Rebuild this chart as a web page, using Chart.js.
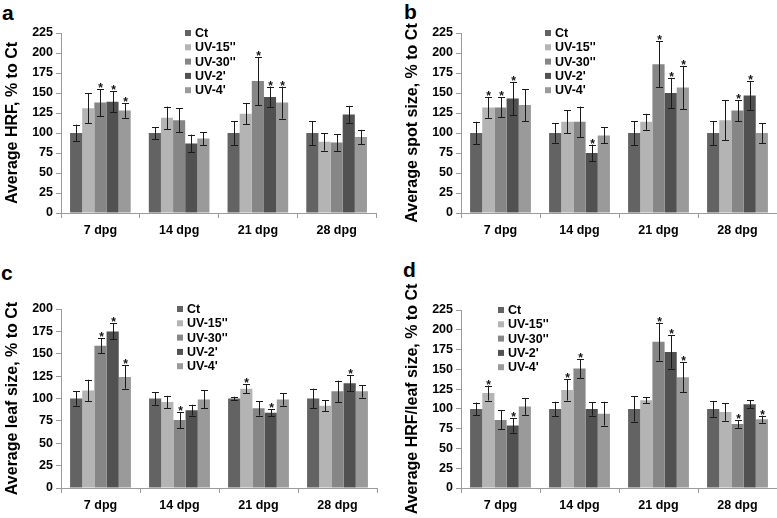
<!DOCTYPE html>
<html><head><meta charset="utf-8">
<script src="https://cdn.jsdelivr.net/npm/chart.js@4.4.1/dist/chart.umd.min.js"></script>
<style>
html,body{margin:0;padding:0;background:#fff;}
body{width:777px;height:518px;overflow:hidden;position:relative;font-family:"Liberation Sans",Arial,sans-serif;}
.pane{position:absolute;}
.letter{position:absolute;font-weight:bold;font-size:21px;line-height:21px;color:#000;}
</style></head>
<body>
<div class="letter" style="left:2px;top:2px">a</div>
<div class="letter" style="left:404px;top:1px">b</div>
<div class="letter" style="left:1px;top:262px">c</div>
<div class="letter" style="left:403px;top:259px">d</div>
<div class="pane" style="left:0;top:0"><canvas id="cA" width="388" height="258"></canvas></div>
<div class="pane" style="left:388px;top:0"><canvas id="cB" width="389" height="258"></canvas></div>
<div class="pane" style="left:0;top:258px"><canvas id="cC" width="388" height="260"></canvas></div>
<div class="pane" style="left:388px;top:258px"><canvas id="cD" width="389" height="260"></canvas></div>
<script>
// ---- data ----
const categories = ['7 dpg', '14 dpg', '21 dpg', '28 dpg'];
const seriesNames = ['Ct', "UV-15''", "UV-30''", "UV-2'", "UV-4'"];
const seriesColors = ['#636363', '#b4b4b4', '#868686', '#515151', '#9a9a9a'];

// panel a: Average HRF, % to Ct  (rows = series, cols = categories)
const hrfMean = [[100,100,100,100],[131,119,124,89],[138,116,165,88],[139,87,145,123],[128,93,138,95]];
const hrfErr  = [[10.5,7.5,15,15],[19,14,13,11],[17,15,30,10.5],[13,11,13,11],[9,8,20,9]];
const hrfSig  = [[0,0,0,0],[0,0,0,0],[1,0,1,0],[1,0,1,0],[1,0,1,0]];

// panel b: Average spot size, % to Ct
const spotMean = [[100,100,100,100],[132,114,114,116],[132,114,186,128],[143,75,150,147],[135,97,157,100]];
const spotErr  = [[14,12,15,15],[13,14.5,10,25],[12.5,19,29,13],[21,10.5,19,18],[20,10,27,12.5]];
const spotSig  = [[0,0,0,0],[1,0,0,0],[1,0,1,1],[1,1,1,1],[0,0,1,0]];

// panel c: Average leaf size, % to Ct
const leafMean = [[100,100,100,100],[109,96,111,92],[159,76,89,108],[175,87,84,117],[124,99,99,108]];
const leafErr  = [[8,7,2,11],[12,7,5,6],[8.5,9,8,12],[9,6,4,9],[13,10,7,7]];
const leafSig  = [[0,0,0,0],[0,0,1,0],[1,1,0,0],[1,0,1,1],[1,0,0,0]];

// panel d: Average HRF/leaf size, % to Ct
const ratioMean = [[100,100,100,100],[120,124,111,96],[86,151,185,81],[79,100,172,106],[103,94,140,87]];
const ratioErr  = [[8,9,16,10],[9.5,13.5,4,11],[12,12,24,5],[9,8.5,21,5],[10.5,15,19,4.5]];
const ratioSig  = [[0,0,0,0],[1,1,0,0],[0,1,1,1],[1,0,1,0],[0,0,1,1]];

// ---- plugins ----
const errorBars = {
  id: 'errorBars',
  afterDatasetsDraw(chart) {
    const ctx = chart.ctx, y = chart.scales.y;
    ctx.save();
    chart.data.datasets.forEach((ds, di) => {
      const meta = chart.getDatasetMeta(di);
      meta.data.forEach((bar, i) => {
        const v = ds.data[i], e = ds.err[i];
        const yt = y.getPixelForValue(v + e), yb = y.getPixelForValue(v - e);
        const x = Math.round(bar.x) + 0.5;
        ctx.strokeStyle = '#1a1a1a'; ctx.lineWidth = 1;
        ctx.beginPath();
        ctx.moveTo(x, yt); ctx.lineTo(x, yb);
        ctx.moveTo(x - 3.5, Math.round(yt) + 0.5); ctx.lineTo(x + 3.5, Math.round(yt) + 0.5);
        ctx.moveTo(x - 3.5, Math.round(yb) + 0.5); ctx.lineTo(x + 3.5, Math.round(yb) + 0.5);
        ctx.stroke();
        if (ds.sig[i]) {
          ctx.fillStyle = '#111';
          ctx.font = 'bold 12px "Liberation Sans", Arial, sans-serif';
          ctx.textAlign = 'center'; ctx.textBaseline = 'alphabetic';
          ctx.fillText('*', x, yt + 3);
        }
      });
    });
    ctx.restore();
  }
};
const boxLegend = {
  id: 'boxLegend',
  afterDraw(chart, args, opts) {
    const ctx = chart.ctx;
    ctx.save();
    ctx.font = 'bold 12.5px "Liberation Sans", Arial, sans-serif';
    ctx.textBaseline = 'middle'; ctx.textAlign = 'left';
    chart.data.datasets.forEach((ds, i) => {
      const cy = opts.y + i * 14.3;
      ctx.fillStyle = ds.backgroundColor;
      ctx.fillRect(opts.x, cy - 3, 6, 6);
      ctx.fillStyle = '#000';
      ctx.fillText(ds.label, opts.x + 10, cy + 0.5);
    });
    ctx.restore();
  }
};

const tickFont = {family: '"Liberation Sans", Arial, sans-serif', size: 12.5, weight: 'bold'};
const axisGray = '#9a9a9a';

function makeChart(id, means, errs, sigs, yMax, yTitle, cfg) {
  return new Chart(document.getElementById(id), {
    type: 'bar',
    data: {
      labels: categories,
      datasets: seriesNames.map((n, i) => ({
        label: n, data: means[i], err: errs[i], sig: sigs[i],
        backgroundColor: seriesColors[i], borderWidth: 0,
        categoryPercentage: 0.77, barPercentage: 1.0
      }))
    },
    options: {
      responsive: false, animation: false, events: [],
      layout: {padding: {left: 0, right: cfg.padRight, top: cfg.padTop, bottom: cfg.padBottom}},
      plugins: {legend: {display: false}, tooltip: {enabled: false}, boxLegend: {x: cfg.legX, y: cfg.legY}},
      scales: {
        x: {
          grid: {display: true, drawOnChartArea: false, offset: true, tickLength: 5, color: axisGray},
          border: {color: axisGray},
          ticks: {font: tickFont, color: '#000', padding: 5, maxRotation: 0},
          afterFit(s) { s.height = 30; }
        },
        y: {
          min: 0, max: yMax,
          grid: {drawOnChartArea: false, tickLength: 5, color: axisGray},
          border: {color: axisGray},
          ticks: {stepSize: 25, font: tickFont, color: '#000', padding: 3},
          title: {display: true, text: yTitle, color: '#000',
                  font: {family: '"Liberation Sans", Arial, sans-serif', size: 16, weight: 'bold'},
                  padding: {top: cfg.titlePad, bottom: 0}},
          afterFit(s) { s.width = cfg.yWidth; }
        }
      }
    },
    plugins: [errorBars, boxLegend]
  });
}

makeChart('cA', hrfMean, hrfErr, hrfSig, 225, 'Average HRF, % to Ct',
  {padRight: 12, padTop: 33, padBottom: 15, yWidth: 61, titlePad: 2.5, legX: 185, legY: 33});
makeChart('cB', spotMean, spotErr, spotSig, 225, 'Average spot size, % to Ct',
  {padRight: 0, padTop: 33, padBottom: 15, yWidth: 73, titlePad: 14.5, legX: 157, legY: 33});
makeChart('cC', leafMean, leafErr, leafSig, 200, 'Average leaf size, % to Ct',
  {padRight: 11, padTop: 51, padBottom: 0, yWidth: 61, titlePad: 2.5, legX: 177, legY: 51});
makeChart('cD', ratioMean, ratioErr, ratioSig, 225, 'Average HRF/leaf size, % to Ct',
  {padRight: 0, padTop: 52, padBottom: 0, yWidth: 73, titlePad: 14.5, legX: 110, legY: 52});
</script>
</body></html>
